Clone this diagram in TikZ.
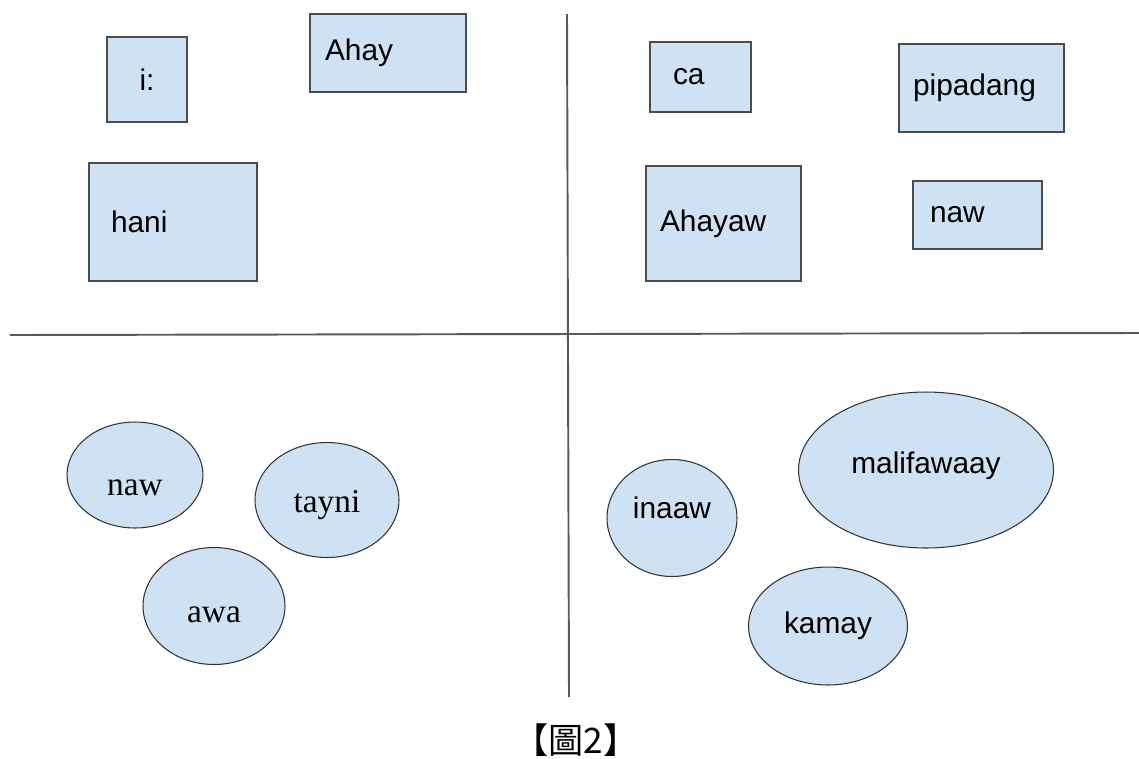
\documentclass[tikz,border=0pt]{standalone}
\usepackage{fontspec}
\usetikzlibrary{shapes.geometric}
\newfontfamily\sansword{Liberation Sans}
\newfontfamily\serifword{Liberation Serif}
\newfontfamily\cjk{Noto Sans CJK TC}
\definecolor{paleblue}{HTML}{CFE2F3}

\tikzset{
  wbox/.style={rectangle, draw=black!70, line width=0.9pt, fill=paleblue,
    inner ysep=0pt, align=left, font=\sansword\fontsize{17}{20}\selectfont},
  oval/.style={ellipse, draw=black!80, line width=0.6pt, fill=paleblue,
    inner sep=0pt, font=\serifword\fontsize{19}{22}\selectfont},
  oval sans/.style={oval, font=\sansword\fontsize{17}{20}\selectfont},
  axisline/.style={black!65, line width=1.1pt}
}

\begin{document}
\begin{tikzpicture}[x=0.02cm, y=-0.02cm]
  \useasboundingbox (0,0) rectangle (1139,758);

  % --- Axes ---
  \draw[axisline] (10,335) -- (1139,333);
  \draw[axisline] (567,14) -- (569,697);

  % --- Top left: boxes ---
  \node[wbox, minimum width=1.6cm, minimum height=1.7cm] (i) at (147,79.5) {i:};
  \node[wbox, minimum height=1.56cm, inner xsep=0.3cm, text width=2.52cm] (ahay) at (388,53) {Ahay};
  \node[wbox, minimum height=2.36cm, inner xsep=0.44cm, text width=2.48cm] (hani) at (173,222) {hani};

  % --- Top right: boxes ---
  \node[wbox, minimum height=1.4cm, inner xsep=0.46cm, text width=1.1cm] (ca) at (700.5,77) {ca};
  \node[wbox, minimum height=1.76cm, inner xsep=0.28cm, text width=2.74cm] (pipadang) at (981.5,88) {pipadang};
  \node[wbox, minimum height=2.3cm, inner xsep=0.28cm, text width=2.54cm] (ahayaw) at (723.5,223.5) {Ahayaw};
  \node[wbox, minimum height=1.36cm, inner xsep=0.34cm, text width=1.9cm] (nawbox) at (977.5,215) {naw};

  % --- Bottom left: ovals ---
  \node[oval, minimum width=2.72cm, minimum height=2.12cm, text height=0.8cm, text depth=0pt] (naw) at (135,475) {naw};
  \node[oval, minimum width=2.88cm, minimum height=2.3cm, text height=0.63cm, text depth=0.15cm] (tayni) at (327,500) {tayni};
  \node[oval, minimum width=2.84cm, minimum height=2.34cm, text height=0.64cm, text depth=0pt] (awa) at (214,606) {awa};

  % --- Bottom right: ovals ---
  \node[oval sans, minimum width=2.6cm, minimum height=2.34cm, text height=0.45cm, text depth=0.45cm] (inaaw) at (672,518) {inaaw};
  \node[oval sans, minimum width=5.1cm, minimum height=3.12cm, text height=0.43cm, text depth=0.31cm] (malifawaay) at (926,470) {malifawaay};
  \node[oval sans, minimum width=3.18cm, minimum height=2.36cm] (kamay) at (828,626) {kamay};

  % --- Caption ---
  \node[font=\cjk\fontsize{20}{24}\selectfont] (caption) at (576,740) {【圖2】};

\end{tikzpicture}
\end{document}
